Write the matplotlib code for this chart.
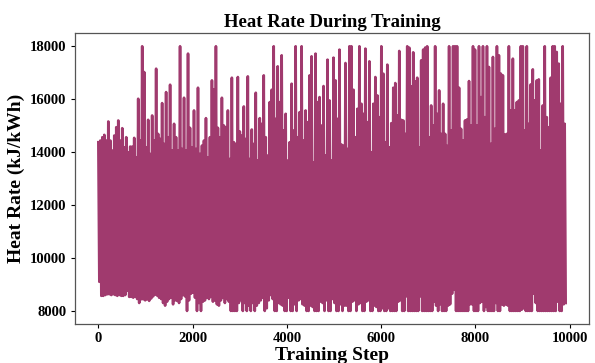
import numpy as np
from matplotlib import pyplot as plt

# Values, one upper and one lower value per ~42 steps
upper = [14375, 14438, 14564, 14653, 14438, 15158, 14438, 14060, 14627, 14943,
         15196, 14438, 14905, 14185, 14564, 13996, 14210, 14210, 14539, 13807,
         16017, 14438, 18000, 17027, 14185, 15221, 13933, 15385, 14438, 17153,
         14690, 14501, 15853, 14312, 16269, 14564, 16547, 14060, 15070, 14564,
         14060, 18000, 14122,
         16055, 14060, 17722, 14918, 14185, 15575, 14122, 16434, 13933, 14248,
         14438, 15284, 13807, 14564, 16711, 16370, 18000, 14918, 14564, 16055,
         15006, 14943, 15575, 13743, 16812, 14375, 14312, 16838, 14779, 14627,
         15726, 14501, 16863, 13743, 14855, 14312, 16244, 13680, 15284, 15070,
         16901, 14564, 13870, 15890, 16358, 18000, 15259,
         17242, 15890, 17659, 14817, 15448, 13680, 14375, 16585, 14817, 18000,
         14564, 15512, 18000, 14438, 15575, 15133, 16901, 17621, 13617, 17722,
         15890, 16080, 15006, 16497, 13870, 17494, 15954, 13680, 17570, 16711,
         15259, 17873, 14287, 14248, 17368, 14122, 18000, 18000, 16358, 14564,
         15638, 18000, 15827, 15448, 17911, 15133, 17431, 13996,
         15827, 16838, 16143, 15322, 18000, 16964, 14375, 17305, 14185, 15095,
         16434, 16610, 15385, 17823, 15221, 15196, 14690, 18000, 17949, 16484,
         17772, 16673, 16812, 14185, 17469, 17873, 17949, 18000, 14564, 15764,
         15006, 18000, 15448, 16333, 14690, 15827, 14690, 14236, 18000, 14817,
         18000, 18000, 18000, 16434, 14880,
         14438, 15196, 15234, 16686, 15006, 18000, 17873, 15006, 18000, 16080,
         18000, 15322, 18000, 17217, 14312, 17596, 14880, 18000, 17659, 16964,
         16901, 14665, 14690, 18000, 15575, 17532, 15575, 15890, 15954, 18000,
         18000, 14817, 18000, 15070, 16560, 17128, 15954, 16711, 16749, 14060,
         15764, 18000, 15322, 14943, 16812, 18000, 18000, 17785, 17343, 15827,
         18000, 15070]

lower = [9100, 8570, 8570, 8600, 8630, 8630, 8600, 8630, 8600, 8570,
         8600, 8570, 8570, 8600, 8760, 8530, 8530, 8500, 8530, 8450,
         8300, 8440, 8440, 8400, 8440, 8380, 8470, 8550, 8620, 8580,
         8500, 8450, 8300, 8200, 8350, 8450, 8500, 8250, 8400, 8380,
         8300, 8450, 8600, 8550, 8000, 8400, 8650, 8700, 8500, 8000,
         8300, 8000, 8350, 8400, 8500, 8450, 8550, 8350, 8400, 8250,
         8200, 8400, 8500, 8300, 8450, 8350, 8000, 8000, 8000, 8000,
         8300, 8400, 8000, 8300, 8000, 8200, 8000, 8300, 8000, 8200,
         8300, 8400, 8500, 8000, 8100, 8400, 8600, 8450, 8000, 8000,
         8300, 8250, 8200, 8000, 8000, 8500, 8000, 8000, 8250, 8000,
         8400, 8450, 8250, 8200, 8000, 8000, 8200, 8150, 8000, 8000,
         8000, 8350, 8300, 8000, 8400, 8000, 8000, 8450, 8300, 8000,
         8000, 8250, 8000, 8200, 8200, 8000, 8000, 8350, 8400, 8000,
         8250, 8300, 8000, 8000, 8350, 8400, 8000, 8000, 8200, 8150,
         8000, 8000, 8100, 8000, 8000, 8100, 8000, 8000, 8000, 8000,
         8350, 8400, 8000, 8000, 8550, 8000, 8000, 8000, 8000, 8000,
         8000, 8550, 8000, 8000, 8000, 8000, 8000, 8000, 8350, 8200,
         8000, 8250, 8000, 8000, 8000, 8200, 8250, 8650, 8800, 8000,
         8000, 8000, 8000, 8000, 8000, 8000, 8250, 8250, 8000, 8000,
         8000, 8300, 8350, 8000, 8150, 8000, 8000, 8000, 8000, 8300,
         8000, 8000, 8250, 8200, 8250, 8200, 8000, 8000, 8000, 8000,
         8000, 8000, 8050, 8100, 8000, 8000, 8000, 8000, 8650, 8300,
         8000, 8000, 8000, 8000, 8000, 8000, 8000, 8000, 8000, 8000,
         8350, 8000, 8000, 8250, 8300]

last_step = 9915

# Interleave highs and lows so the line sweeps through the band
heat_rate = np.empty(2 * len(upper))
heat_rate[0::2] = upper
heat_rate[1::2] = lower
steps = np.linspace(0, last_step, len(heat_rate))

plt.rcParams['font.family'] = ['Liberation Serif', 'DejaVu Serif']

fig = plt.figure(figsize=(5.95, 3.63), dpi=100)
ax = fig.add_axes([0.126, 0.107, 0.864, 0.802])
ax.plot(steps, heat_rate, color='#A03A6E', linewidth=1.9)

ax.set_title('Heat Rate During Training', fontsize=13.5, fontweight='bold', pad=4)
ax.set_xlabel('Training Step', fontsize=14, fontweight='bold', labelpad=1)
ax.set_ylabel('Heat Rate (kJ/kWh)', fontsize=14, fontweight='bold', labelpad=4)
ax.set_xticks([0, 2000, 4000, 6000, 8000, 10000])
ax.set_yticks([8000, 10000, 12000, 14000, 16000, 18000])
ax.tick_params(labelsize=10.5, length=3, pad=3)
for lab in ax.get_xticklabels() + ax.get_yticklabels():
    lab.set_fontweight('bold')
for sp in ax.spines.values():
    sp.set_color('#555555')
    sp.set_linewidth(0.9)

fig.savefig('out.png', dpi=100)
